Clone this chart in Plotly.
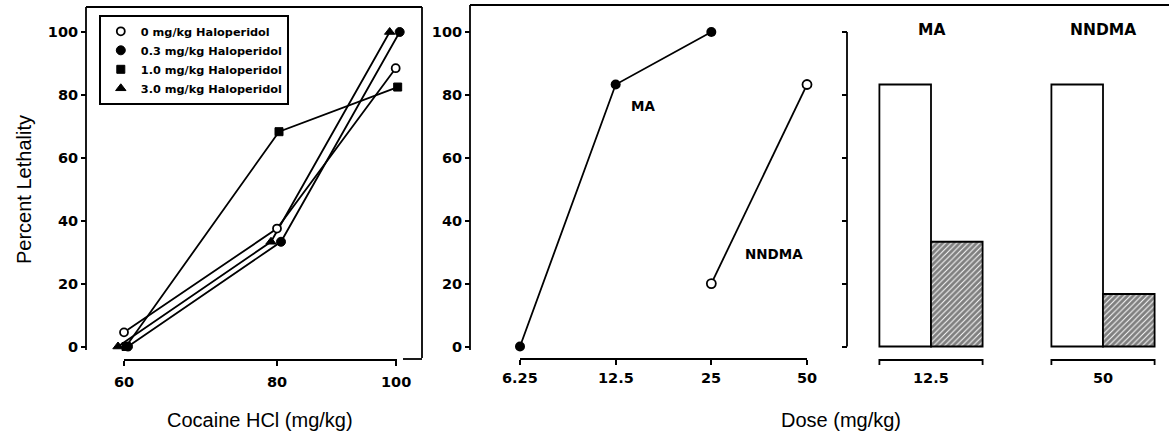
import math
import plotly.graph_objects as go

# ---------------- data ----------------
cocaine_doses = [60, 80, 100]
cocaine_ticktext = ["60", "80", "100"]
hal_0_mgkg = [4.5, 37.5, 88.5]
hal_03_mgkg = [0, 33.3, 100]
hal_10_mgkg = [0, 68.3, 82.5]
hal_30_mgkg = [0, 33.3, 100]
legend_labels = ["0 mg/kg Haloperidol", "0.3 mg/kg Haloperidol",
                 "1.0 mg/kg Haloperidol", "3.0 mg/kg Haloperidol"]

ma_doses = [6.25, 12.5, 25]
ma_lethality = [0, 83.3, 100]
nndma_doses = [25, 50]
nndma_lethality = [20, 83.3]
dose_ticks = [6.25, 12.5, 25, 50]
dose_ticktext = ["6.25", "12.5", "25", "50"]

bar_doses = ["12.5", "50"]
bar_drugs = ["MA", "NNDMA"]
bar_control = [83.3, 83.3]
bar_haloperidol = [33.3, 16.7]

y_ticks = [0, 20, 40, 60, 80, 100]

# ---------------- layout helpers (pixels) ----------------
W, H = 1169, 436
def px(x):
    return x / W
def py(y):
    return 1 - y / H

# shared y mapping: 0 -> 346.5px, 100 -> 32px
Y0, Y100 = 346.5, 32.0
ppu = (Y0 - Y100) / 100.0
YTOP, YBOT = 5.0, 360.0
yrange = [-(YBOT - Y0) / ppu, 100 + (Y100 - YTOP) / ppu]
ydomain = [py(YBOT), py(YTOP)]

# panel 1 x (log): 60 -> 124px, 80 -> 277px
k1 = (277 - 124) / (math.log10(80) - math.log10(60))
P1L, P1R = 86.0, 422.0
x1range = [math.log10(60) - (124 - P1L) / k1, math.log10(60) + (P1R - 124) / k1]

# panel 2 x (log): 6.25 -> 520px, 50 -> 807px
k2 = (807 - 520) / (math.log10(50) - math.log10(6.25))
P2L, P2R = 470.0, 840.0
x2range = [math.log10(6.25) - (520 - P2L) / k2, math.log10(6.25) + (P2R - 520) / k2]

# panel 3 category axis: index 0 -> 931px, index 1 -> 1103px
cat_px = 1103 - 931
P3L, P3R = 847.0, 1169.0
x3range = [(P3L - 931) / cat_px, (P3R - 931) / cat_px]

BOLDF = "DejaVu Sans, sans-serif"
TITLEF = "Liberation Sans, Arial, sans-serif"
TICKFONT = dict(family=BOLDF, size=14.5, color="black", weight="bold")

fig = go.Figure()

# jitter (style) in pixels for panel-1 series
jitter_px = [0, 4, 2, -6]
series = [hal_0_mgkg, hal_03_mgkg, hal_10_mgkg, hal_30_mgkg]
markers = [
    dict(symbol="circle", size=8, color="white", line=dict(color="black", width=1.8)),
    dict(symbol="circle", size=9, color="black", line=dict(color="black", width=1)),
    dict(symbol="square", size=8, color="black", line=dict(color="black", width=1)),
    dict(symbol="triangle-up", size=9, color="black", line=dict(color="black", width=1)),
]
draw_order = [3, 1, 2, 0]
for i in draw_order:
    xs = [d * 10 ** (jitter_px[i] / k1) for d in cocaine_doses]
    fig.add_trace(go.Scatter(x=xs, y=series[i], mode="lines+markers",
                             line=dict(color="black", width=1.8), marker=markers[i],
                             xaxis="x", yaxis="y", showlegend=False, hoverinfo="skip"))
# legend-only entries
for i in range(4):
    fig.add_trace(go.Scatter(x=[None], y=[None], mode="markers", marker=markers[i],
                             name=legend_labels[i], xaxis="x", yaxis="y", showlegend=True))

# panel 2
fig.add_trace(go.Scatter(x=ma_doses, y=ma_lethality, mode="lines+markers",
                         line=dict(color="black", width=1.8),
                         marker=dict(symbol="circle", size=10, color="black"),
                         xaxis="x2", yaxis="y2", showlegend=False))
fig.add_trace(go.Scatter(x=nndma_doses, y=nndma_lethality, mode="lines+markers",
                         line=dict(color="black", width=1.8),
                         marker=dict(symbol="circle", size=9, color="white",
                                     line=dict(color="black", width=1.8)),
                         xaxis="x2", yaxis="y2", showlegend=False))

# panel 3 bars
fig.add_trace(go.Bar(x=bar_doses, y=bar_control, xaxis="x3", yaxis="y3",
                     marker=dict(color="white", line=dict(color="black", width=1.8)),
                     showlegend=False))
fig.add_trace(go.Bar(x=bar_doses, y=bar_haloperidol, xaxis="x3", yaxis="y3",
                     marker=dict(color="white", line=dict(color="black", width=1.8),
                                 pattern=dict(shape="/", fgcolor="black", bgcolor="white",
                                              size=4, solidity=0.75)),
                     showlegend=False))

common_y = dict(range=yrange, domain=ydomain, anchor="free", showgrid=False,
                zeroline=False, showline=False, ticks="outside", ticklen=5,
                tickwidth=1.8, tickcolor="black", tickvals=y_ticks,
                tickfont=TICKFONT)

fig.update_layout(
    width=W, height=H,
    margin=dict(l=0, r=0, t=0, b=0),
    paper_bgcolor="white", plot_bgcolor="white",
    barmode="group", bargap=0.4, bargroupgap=0,
    font=dict(family=BOLDF, color="black"),
    xaxis=dict(type="log", range=x1range, domain=[px(P1L), px(P1R)], anchor="free",
               position=py(360), showgrid=False, zeroline=False, showline=False,
               ticks="outside", ticklen=5, tickwidth=1.8, tickcolor="black",
               tickvals=cocaine_doses, showticklabels=False),
    yaxis=dict(common_y, position=px(P1L)),
    xaxis2=dict(type="log", range=x2range, domain=[px(P2L), px(P2R)], anchor="free",
                position=py(359), showgrid=False, zeroline=False, showline=False,
                ticks="outside", ticklen=5, tickwidth=1.8, tickcolor="black",
                tickvals=dose_ticks, showticklabels=False),
    yaxis2=dict(common_y, position=px(P2L)),
    xaxis3=dict(type="category", range=x3range, domain=[px(P3L), 1.0], anchor="free",
                position=py(360), showgrid=False, zeroline=False, showline=False,
                ticks="", showticklabels=False),
    yaxis3=dict(common_y, position=px(P3L), showticklabels=False),
    legend=dict(x=px(99), y=py(15), xanchor="left", yanchor="top",
                bordercolor="black", borderwidth=1.8, bgcolor="white",
                font=dict(family=BOLDF, size=11.3, color="black", weight="bold"),
                tracegroupgap=0, itemwidth=30),
)

# x tick labels as annotations (placed at the data tick values)
for d, t in zip(cocaine_doses, cocaine_ticktext):
    fig.add_annotation(x=math.log10(d), y=py(382), xref="x", yref="paper", text=t,
                       showarrow=False, xanchor="center", yanchor="middle", font=TICKFONT)
for d, t in zip(dose_ticks, dose_ticktext):
    fig.add_annotation(x=math.log10(d), y=py(378), xref="x2", yref="paper", text=t,
                       showarrow=False, xanchor="center", yanchor="middle", font=TICKFONT)
for i, t in enumerate(bar_doses):
    fig.add_annotation(x=i, y=py(378), xref="x3", yref="paper", text=t,
                       showarrow=False, xanchor="center", yanchor="middle", font=TICKFONT)

# frame lines (decoration)
LW = 1.8
def pline(x0, y0, x1, y1):
    fig.add_shape(type="line", xref="paper", yref="paper",
                  x0=px(x0), y0=py(y0), x1=px(x1), y1=py(y1),
                  line=dict(color="black", width=LW))

# panel 1 frame
pline(P1L, YTOP + 2, P1L, 350)
pline(P1L, YTOP + 2, P1R, YTOP + 2)
pline(P1R, YTOP + 2, P1R, 358)
pline(124, 360, 397, 360)
pline(403, 359, P1R, 359)
# panel 2 frame
pline(P2L, YTOP, P2L, 350)
pline(P2L, YTOP, W, YTOP)
pline(520, 359, 807, 359)
# panel 3 axis line (0..100)
fig.add_shape(type="line", xref="paper", yref="y3", x0=px(P3L), x1=px(P3L),
              y0=0, y1=100, line=dict(color="black", width=LW))
# brackets under bar groups
half = (1 - 0.4) / 2
for i, _ in enumerate(bar_doses):
    fig.add_shape(type="path", xref="x3", yref="paper",
                  path=f"M {i - half},{py(365)} L {i - half},{py(360)} L {i + half},{py(360)} L {i + half},{py(365)}",
                  line=dict(color="black", width=LW))

# drug labels (log axes need log10 positions)
fig.add_annotation(x=math.log10(ma_doses[1]), y=ma_lethality[1], xref="x2", yref="y2",
                   text="MA", showarrow=False, xshift=27, yshift=-21,
                   font=dict(family=BOLDF, size=13.5, color="black", weight="bold"))
fig.add_annotation(x=math.log10(nndma_doses[0]), y=nndma_lethality[0], xref="x2", yref="y2",
                   text="NNDMA", showarrow=False, xshift=63, yshift=30,
                   font=dict(family=BOLDF, size=13.5, color="black", weight="bold"))
for i, drug in enumerate(bar_drugs):
    fig.add_annotation(x=i, y=py(30), xref="x3", yref="paper",
                       text=drug, showarrow=False, xanchor="center", yanchor="middle",
                       font=dict(family=BOLDF, size=15.5, color="black", weight="bold"))

# axis titles
fig.add_annotation(x=px(24), y=py(190), xref="paper", yref="paper",
                   text="Percent Lethality", textangle=-90, showarrow=False,
                   xanchor="center", yanchor="middle",
                   font=dict(family=TITLEF, size=20, color="black"))
fig.add_annotation(x=px(260), y=py(433), xref="paper", yref="paper",
                   text="Cocaine HCl (mg/kg)", showarrow=False,
                   xanchor="center", yanchor="bottom",
                   font=dict(family=TITLEF, size=20, color="black"))
fig.add_annotation(x=px(841), y=py(433), xref="paper", yref="paper",
                   text="Dose (mg/kg)", showarrow=False,
                   xanchor="center", yanchor="bottom",
                   font=dict(family=TITLEF, size=20, color="black"))

# remove the default 8px page margin so the figure sits at the window origin
fig.write_html("out.html", config={"displayModeBar": False},
               post_script="document.body.style.margin='0';document.body.style.overflow='hidden';")
